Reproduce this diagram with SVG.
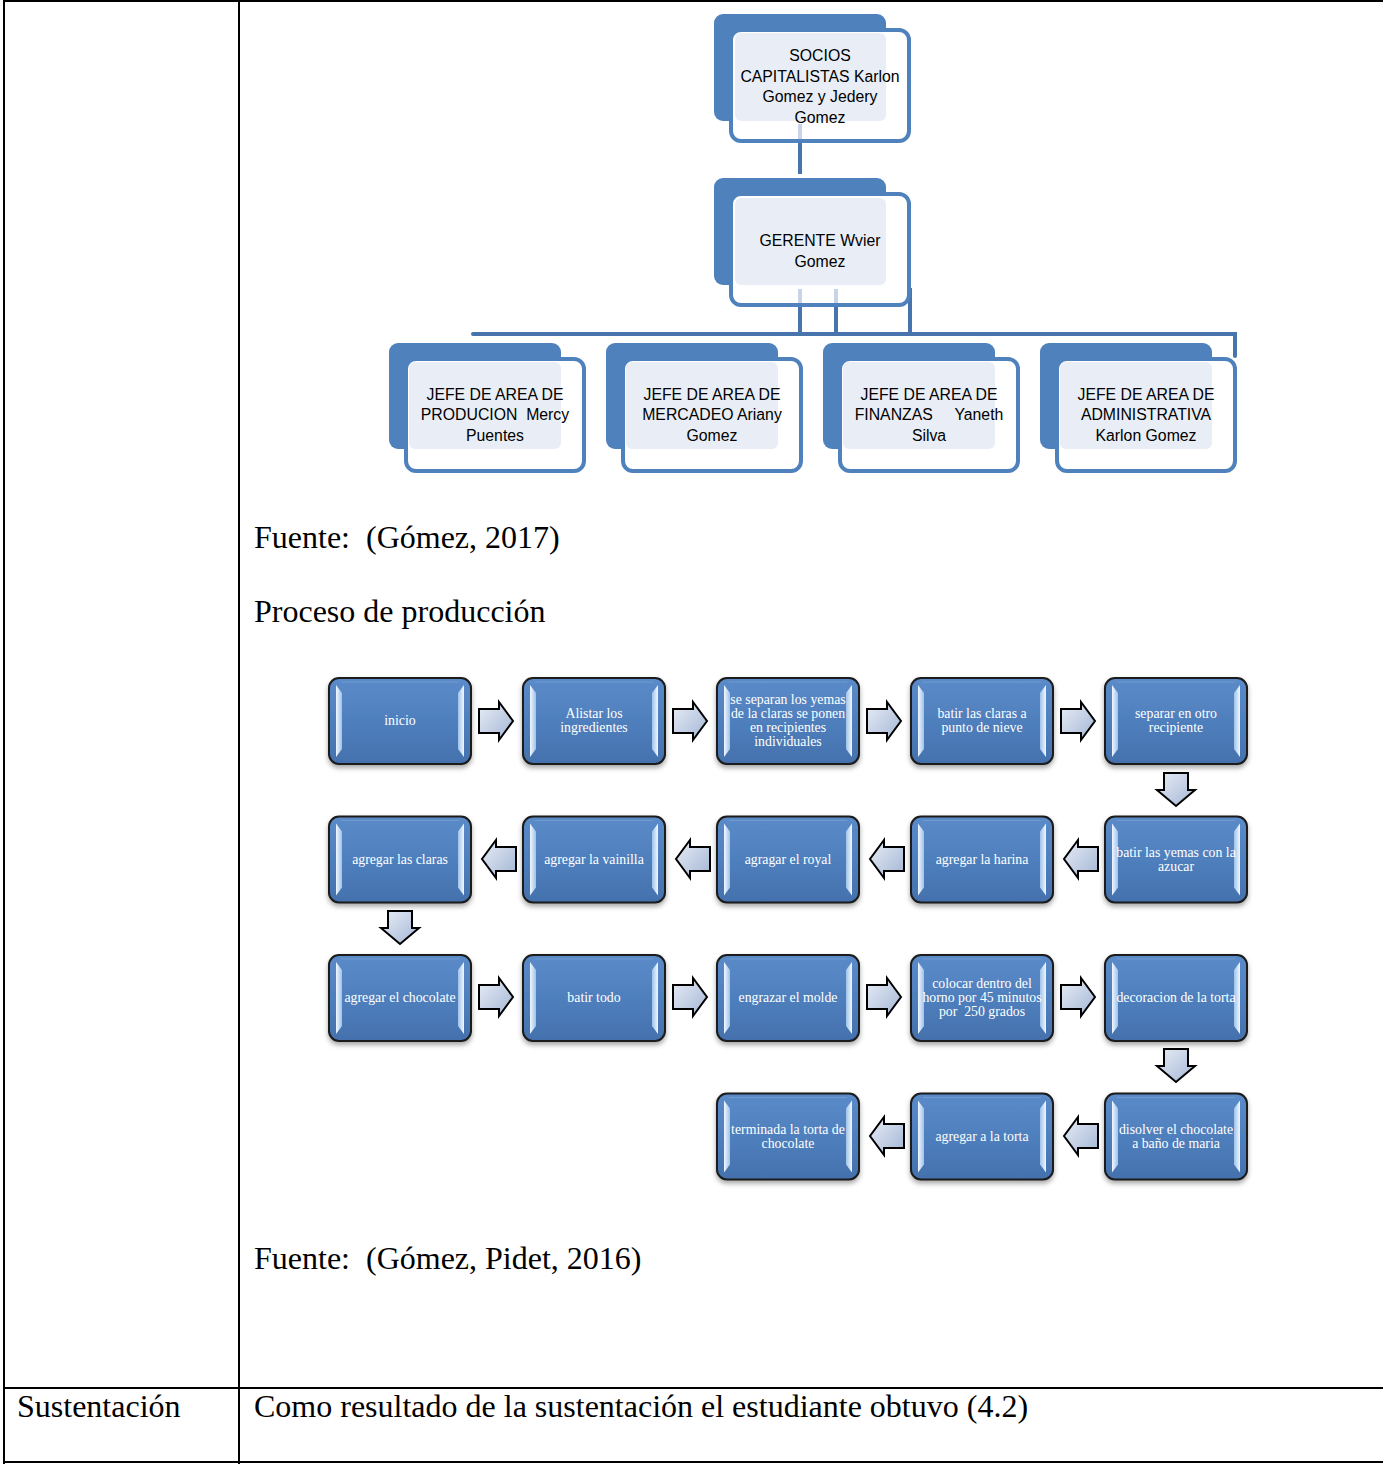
<svg xmlns="http://www.w3.org/2000/svg" xmlns:xlink="http://www.w3.org/1999/xlink" width="1383" height="1464" viewBox="0 0 1383 1464">
<style>
.tbl{fill:#000}
.body{font-family:"Liberation Serif","Times New Roman",serif;font-size:32px;fill:#000}
.org{font-family:"Liberation Sans",Arial,sans-serif;font-size:15.8px;fill:#000;text-anchor:middle}
.ptxt{font-family:"Liberation Serif","Times New Roman",serif;font-size:13.8px;fill:#fff;text-anchor:middle}
.back{fill:#4F81BD}
.front{fill:#fff;stroke:#4F81BD;stroke-width:4}
.light{fill:#E9EEF6}
.conn{stroke:#4874AE;stroke-width:4;fill:none}
.connf{stroke:#C8D4E8;stroke-width:4;fill:none}
.arr{fill:url(#ag);stroke:#000;stroke-width:2;stroke-linejoin:miter}
</style>
<defs>
<linearGradient id="bg" x1="0" y1="0" x2="0" y2="1">
<stop offset="0" stop-color="#5B8BC8"/>
<stop offset="0.5" stop-color="#4F7FBD"/>
<stop offset="1" stop-color="#4471AD"/>
</linearGradient>
<linearGradient id="sg" x1="0" y1="0" x2="1" y2="0">
<stop offset="0" stop-color="#F0F7FF"/>
<stop offset="1" stop-color="#9FC2EA"/>
</linearGradient>
<linearGradient id="sg2" x1="1" y1="0" x2="0" y2="0">
<stop offset="0" stop-color="#F0F7FF"/>
<stop offset="1" stop-color="#9FC2EA"/>
</linearGradient>
<linearGradient id="ag" x1="0" y1="0" x2="1" y2="1">
<stop offset="0" stop-color="#E8EDF6"/>
<stop offset="1" stop-color="#A3B6D5"/>
</linearGradient>
<filter id="sh" x="-10%" y="-10%" width="120%" height="130%">
<feDropShadow dx="0" dy="3" stdDeviation="2.5" flood-color="#000" flood-opacity="0.35"/>
</filter>
<g id="box">
<rect x="0" y="0" width="142" height="86" rx="10" fill="url(#bg)" stroke="#1A1A1A" stroke-width="2" filter="url(#sh)"/>
<path d="M7,7 L13,15 L13,71 L7,79 Z" fill="url(#sg)"/>
<path d="M135,7 L129,15 L129,71 L135,79 Z" fill="url(#sg2)"/>
<path d="M12,4 H130" stroke="#7FA6D6" stroke-width="1" opacity="0.6"/>
</g>
<path id="ar" class="arr" d="M0,7 H20 V0 L34,19 L20,38 V31 H0 Z"/>
<path id="al" class="arr" d="M34,7 H14 V0 L0,19 L14,38 V31 H34 Z"/>
<path id="ad" class="arr" d="M7,0 H31 V17 H38 L19,33 L0,17 H7 Z"/>
</defs>
<rect width="1383" height="1464" fill="#fff"/>

<g id="table">
<rect class="tbl" x="3" y="0" width="1380" height="2"/>
<rect class="tbl" x="3" y="0" width="2" height="1464"/>
<rect class="tbl" x="238" y="0" width="2" height="1464"/>
<rect class="tbl" x="3" y="1387" width="1380" height="2"/>
<rect class="tbl" x="3" y="1461" width="1380" height="2"/>
</g>

<g id="org-connectors">
<line class="conn" x1="800" y1="142" x2="800" y2="174"/>
<line class="conn" x1="800" y1="304" x2="800" y2="334"/>
<line class="conn" x1="836" y1="304" x2="836" y2="334"/>
<line class="conn" x1="910" y1="288" x2="910" y2="334"/>
<path class="conn" d="M473,334 H1235 V356" stroke-linecap="round"/>
</g>

<g id="n-socios">
<rect class="back" x="714" y="14" width="172" height="107" rx="9"/>
<rect class="front" x="731" y="30" width="178" height="111" rx="10"/>
<rect class="light" x="735" y="33" width="151" height="88" rx="6"/>
<line class="connf" x1="800" y1="124" x2="800" y2="139"/>
<text class="org"><tspan x="820" y="61">SOCIOS</tspan><tspan x="820" y="81.5">CAPITALISTAS Karlon</tspan><tspan x="820" y="102">Gomez y Jedery</tspan><tspan x="820" y="122.5">Gomez</tspan></text>
</g>

<g id="n-gerente">
<rect class="back" x="714" y="178" width="172" height="107" rx="9"/>
<rect class="front" x="731" y="194" width="178" height="111" rx="10"/>
<rect class="light" x="735" y="198" width="151" height="87" rx="6"/>
<line class="connf" x1="800" y1="289" x2="800" y2="303"/>
<line class="connf" x1="836" y1="289" x2="836" y2="303"/>
<text class="org"><tspan x="820" y="246">GERENTE Wvier</tspan><tspan x="820" y="266.5">Gomez</tspan></text>
</g>

<g id="n-produccion">
<rect class="back" x="389" y="343" width="172" height="106" rx="9"/>
<rect class="front" x="406" y="359" width="178" height="112" rx="10"/>
<rect class="light" x="409" y="362" width="152" height="87" rx="6"/>
<text class="org" xml:space="preserve"><tspan x="495" y="400">JEFE DE AREA DE</tspan><tspan x="495" y="420">PRODUCION  Mercy</tspan><tspan x="495" y="441">Puentes</tspan></text>
</g>
<g id="n-mercadeo">
<rect class="back" x="606" y="343" width="172" height="106" rx="9"/>
<rect class="front" x="623" y="359" width="178" height="112" rx="10"/>
<rect class="light" x="626" y="362" width="152" height="87" rx="6"/>
<text class="org"><tspan x="712" y="400">JEFE DE AREA DE</tspan><tspan x="712" y="420">MERCADEO Ariany</tspan><tspan x="712" y="441">Gomez</tspan></text>
</g>
<g id="n-finanzas">
<rect class="back" x="823" y="343" width="172" height="106" rx="9"/>
<rect class="front" x="840" y="359" width="178" height="112" rx="10"/>
<rect class="light" x="843" y="362" width="152" height="87" rx="6"/>
<text class="org" xml:space="preserve"><tspan x="929" y="400">JEFE DE AREA DE</tspan><tspan x="929" y="420">FINANZAS     Yaneth</tspan><tspan x="929" y="441">Silva</tspan></text>
</g>
<g id="n-admin">
<rect class="back" x="1040" y="343" width="172" height="106" rx="9"/>
<rect class="front" x="1057" y="359" width="178" height="112" rx="10"/>
<rect class="light" x="1060" y="362" width="152" height="87" rx="6"/>
<text class="org"><tspan x="1146" y="400">JEFE DE AREA DE</tspan><tspan x="1146" y="420">ADMINISTRATIVA</tspan><tspan x="1146" y="441">Karlon Gomez</tspan></text>
</g>

<text class="body" x="254" y="548" xml:space="preserve">Fuente:  (Gómez, 2017)</text>
<text class="body" x="254" y="622">Proceso de producción</text>

<g id="process-connectors">
<use href="#ar" x="479" y="702"/>
<use href="#ar" x="673" y="702"/>
<use href="#ar" x="867" y="702"/>
<use href="#ar" x="1061" y="702"/>
<use href="#ad" x="1157" y="773"/>
<use href="#al" x="1064" y="840"/>
<use href="#al" x="870" y="840"/>
<use href="#al" x="676" y="840"/>
<use href="#al" x="482" y="840"/>
<use href="#ad" x="381" y="911"/>
<use href="#ar" x="479" y="978"/>
<use href="#ar" x="673" y="978"/>
<use href="#ar" x="867" y="978"/>
<use href="#ar" x="1061" y="978"/>
<use href="#ad" x="1157" y="1049"/>
<use href="#al" x="1064" y="1117"/>
<use href="#al" x="870" y="1117"/>
</g>

<g id="s1" transform="translate(329,678)"><use href="#box"/><text class="ptxt"><tspan x="71" y="47">inicio</tspan></text></g>
<g id="s2" transform="translate(523,678)"><use href="#box"/><text class="ptxt"><tspan x="71" y="40">Alistar los</tspan><tspan x="71" y="54">ingredientes</tspan></text></g>
<g id="s3" transform="translate(717,678)"><use href="#box"/><text class="ptxt"><tspan x="71" y="26">se separan los yemas</tspan><tspan x="71" y="40">de la claras se ponen</tspan><tspan x="71" y="54">en recipientes</tspan><tspan x="71" y="68">individuales</tspan></text></g>
<g id="s4" transform="translate(911,678)"><use href="#box"/><text class="ptxt"><tspan x="71" y="40">batir las claras a</tspan><tspan x="71" y="54">punto de nieve</tspan></text></g>
<g id="s5" transform="translate(1105,678)"><use href="#box"/><text class="ptxt"><tspan x="71" y="40">separar en otro</tspan><tspan x="71" y="54">recipiente</tspan></text></g>

<g id="s6" transform="translate(1105,816.5)"><use href="#box"/><text class="ptxt"><tspan x="71" y="40">batir las yemas con la</tspan><tspan x="71" y="54">azucar</tspan></text></g>
<g id="s7" transform="translate(911,816.5)"><use href="#box"/><text class="ptxt"><tspan x="71" y="47">agregar la harina</tspan></text></g>
<g id="s8" transform="translate(717,816.5)"><use href="#box"/><text class="ptxt"><tspan x="71" y="47">agragar el royal</tspan></text></g>
<g id="s9" transform="translate(523,816.5)"><use href="#box"/><text class="ptxt"><tspan x="71" y="47">agregar la vainilla</tspan></text></g>
<g id="s10" transform="translate(329,816.5)"><use href="#box"/><text class="ptxt"><tspan x="71" y="47">agregar las claras</tspan></text></g>

<g id="s11" transform="translate(329,955)"><use href="#box"/><text class="ptxt"><tspan x="71" y="47">agregar el chocolate</tspan></text></g>
<g id="s12" transform="translate(523,955)"><use href="#box"/><text class="ptxt"><tspan x="71" y="47">batir todo</tspan></text></g>
<g id="s13" transform="translate(717,955)"><use href="#box"/><text class="ptxt"><tspan x="71" y="47">engrazar el molde</tspan></text></g>
<g id="s14" transform="translate(911,955)"><use href="#box"/><text class="ptxt" xml:space="preserve"><tspan x="71" y="33">colocar dentro del</tspan><tspan x="71" y="47">horno por 45 minutos</tspan><tspan x="71" y="61">por  250 grados</tspan></text></g>
<g id="s15" transform="translate(1105,955)"><use href="#box"/><text class="ptxt"><tspan x="71" y="47">decoracion de la torta</tspan></text></g>

<g id="s16" transform="translate(1105,1093.5)"><use href="#box"/><text class="ptxt"><tspan x="71" y="40">disolver el chocolate</tspan><tspan x="71" y="54">a baño de maria</tspan></text></g>
<g id="s17" transform="translate(911,1093.5)"><use href="#box"/><text class="ptxt"><tspan x="71" y="47">agregar a la torta</tspan></text></g>
<g id="s18" transform="translate(717,1093.5)"><use href="#box"/><text class="ptxt"><tspan x="71" y="40">terminada la torta de</tspan><tspan x="71" y="54">chocolate</tspan></text></g>

<text class="body" x="254" y="1269" xml:space="preserve">Fuente:  (Gómez, Pidet, 2016)</text>
<text class="body" x="17" y="1417">Sustentación</text>
<text class="body" x="254" y="1417">Como resultado de la sustentación el estudiante obtuvo (4.2)</text>
</svg>
